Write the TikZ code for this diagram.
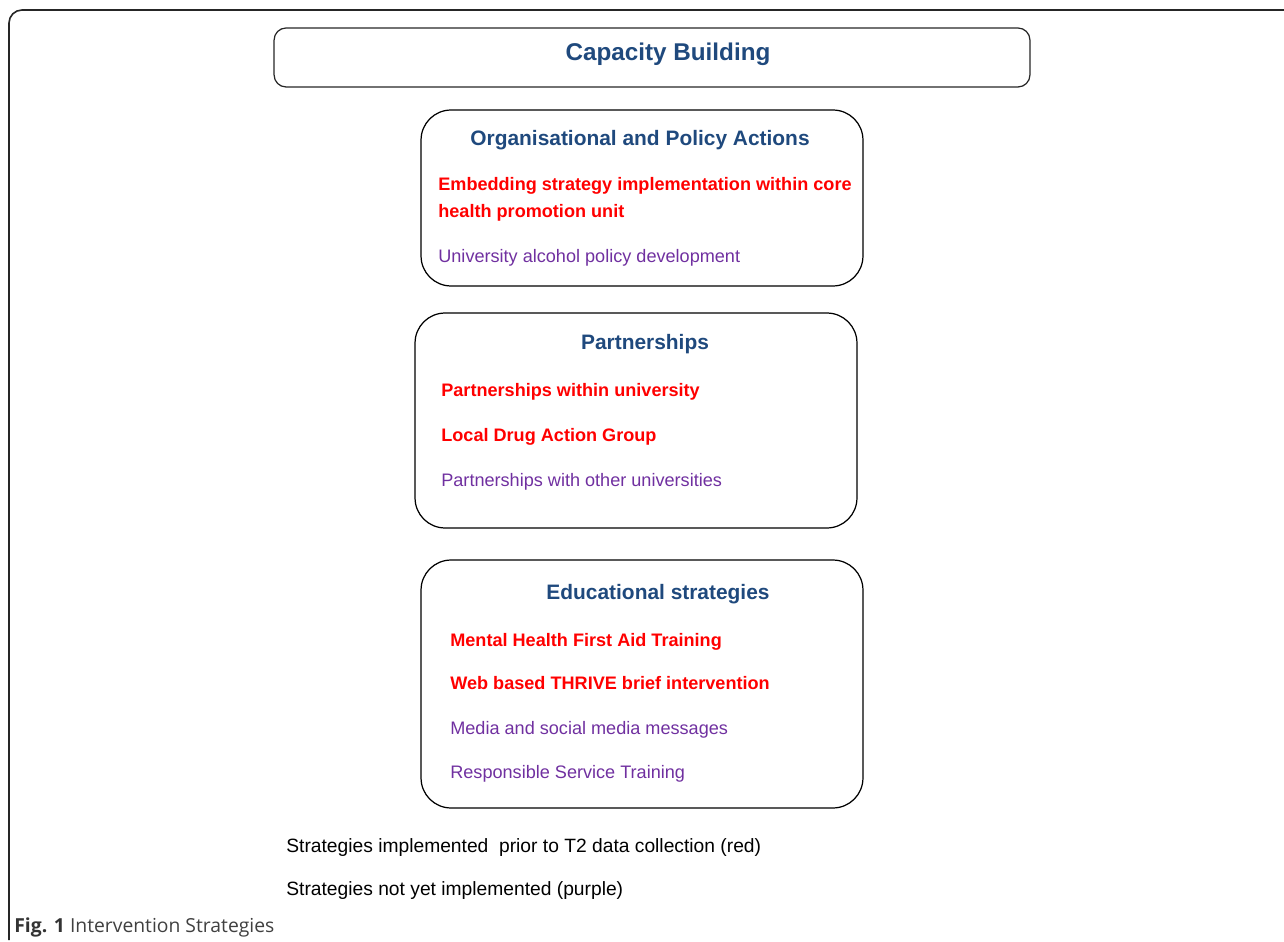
\documentclass[tikz,border=0pt]{standalone}
\usepackage{fontspec}
\setmainfont{Liberation Sans}
\newfontfamily\capfont{Open Sans}
\definecolor{ttlblue}{HTML}{1F497D}
\definecolor{impred}{HTML}{FF0000}
\definecolor{notpurple}{HTML}{7030A0}
\definecolor{capgray}{HTML}{404040}
\tikzset{
  frame/.style={line width=0.9pt, draw=black!85},
  groupbox/.style={draw=black, line width=0.7pt, rounded corners=0.6cm, minimum width=8.84cm, inner sep=0pt},
  topbox/.style={draw=black!85, line width=0.7pt, rounded corners=0.24cm, minimum width=15.12cm, minimum height=1.18cm, inner sep=0pt},
  ttl/.style={inner sep=0pt, anchor=base, text=ttlblue, font=\fontsize{11.9}{14}\selectfont\bfseries},
  done/.style={inner sep=0pt, anchor=base west, text=impred, font=\fontsize{10.3}{12}\selectfont\bfseries},
  todo/.style={inner sep=0pt, anchor=base west, text=notpurple, font=\fontsize{10.3}{12}\selectfont},
  legend/.style={inner sep=0pt, anchor=base west, text=black, font=\fontsize{10.95}{13}\selectfont},
}
\begin{document}
\begin{tikzpicture}[x=0.02cm, y=-0.02cm]
\useasboundingbox (0,0) rectangle (1284,942);
% outer frame (open on right and bottom)
\draw[frame, rounded corners=0.26cm] (9,940) -- (9,10) -- (1284,10);
% capacity building
\node[topbox] (cap) at (652,57.5) {};
\node[ttl, font=\fontsize{13.8}{16}\selectfont\bfseries] (capt) at (668,61) {Capacity Building};
% box 1
\node[groupbox, minimum height=3.52cm] (org) at (642,198) {};
\node[ttl] (orgt) at (640,146) {Organisational and Policy Actions};
\node[done] (o1) at (438,191) {Embedding strategy implementation within core};
\node[done] (o2) at (438,218) {health promotion unit};
\node[todo] (o3) at (438,263) {University alcohol policy development};
% box 2
\node[groupbox, minimum height=4.3cm] (part) at (636,420.5) {};
\node[ttl] (partt) at (645,350) {Partnerships};
\node[done] (p1) at (441,397) {Partnerships within university};
\node[done] (p2) at (441,441) {Local Drug Action Group};
\node[todo] (p3) at (441,486) {Partnerships with other universities};
% box 3
\node[groupbox, minimum height=4.96cm] (edu) at (642,684) {};
\node[ttl] (edut) at (658,599) {Educational strategies};
\node[done] (e1) at (450,646) {Mental Health First Aid Training};
\node[done] (e2) at (450,689) {Web based THRIVE brief intervention};
\node[todo] (e3) at (450,734) {Media and social media messages};
\node[todo] (e4) at (450,778) {Responsible Service Training};
% legend
\node[legend] (l1) at (286,852) {Strategies implemented\ \ prior to T2 data collection (red)};
\node[legend] (l2) at (286,895) {Strategies not yet implemented (purple)};
% caption
\node[inner sep=0pt, anchor=base west, text=capgray, font=\capfont\fontsize{11}{13}\selectfont] (cap1) at (14,932) {{\bfseries\color{black!80}Fig. 1} Intervention Strategies};
\end{tikzpicture}
\end{document}
